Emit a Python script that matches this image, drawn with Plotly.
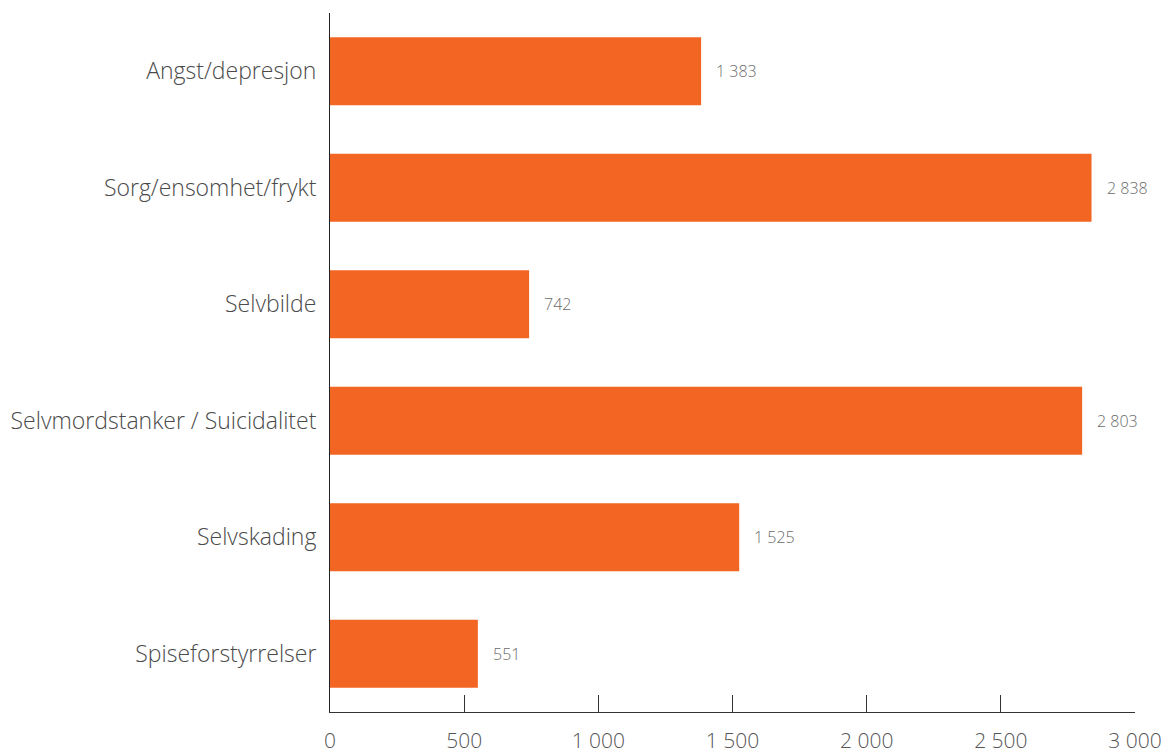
import plotly.graph_objects as go

# Categories listed top to bottom
categories = [
    "Angst/depresjon",
    "Sorg/ensomhet/frykt",
    "Selvbilde",
    "Selvmordstanker / Suicidalitet",
    "Selvskading",
    "Spiseforstyrrelser",
]
values = [1383, 2838, 742, 2803, 1525, 551]
tick_values = [0, 500, 1000, 1500, 2000, 2500, 3000]
tick_labels = ["0", "500", "1 000", "1 500", "2 000", "2 500", "3 000"]


def fmt(v):
    return f"{v:,}".replace(",", " ")


BAR = "#F26522"
FONT = "Open Sans"

fig = go.Figure(
    go.Bar(
        x=values,
        y=categories,
        orientation="h",
        marker=dict(color=BAR, line=dict(width=0)),
        width=0.585,
        hoverinfo="skip",
    )
)

for cat, v in zip(categories, values):
    fig.add_annotation(
        x=v, y=cat, text=fmt(v), showarrow=False,
        xanchor="left", yanchor="middle", xshift=13,
        font=dict(family=FONT, size=16, color="#6b6b6b", weight=300),
    )

fig.update_layout(
    width=1169,
    height=756,
    margin=dict(l=330, r=34, t=13, b=44),
    paper_bgcolor="white",
    plot_bgcolor="white",
    showlegend=False,
    bargap=0.4,
)

fig.update_xaxes(
    range=[0, 3000],
    tickvals=tick_values,
    ticktext=tick_labels,
    ticks="inside",
    ticklen=17,
    tickwidth=1,
    tickcolor="#333333",
    showline=True,
    linecolor="#333333",
    linewidth=1,
    showgrid=False,
    zeroline=False,
    tickfont=dict(family=FONT, size=21, color="#555555", weight=300),
    ticklabelstandoff=10,
    automargin=False,
    fixedrange=True,
)

fig.update_yaxes(
    categoryorder="array",
    categoryarray=categories[::-1],
    range=[-0.5, len(categories) - 0.5],
    showline=True,
    linecolor="#222222",
    linewidth=1,
    ticks="",
    showgrid=False,
    zeroline=False,
    tickfont=dict(family=FONT, size=23, color="#4a4a4a", weight=300),
    ticklabelstandoff=8,
    automargin=False,
    fixedrange=True,
)

fig.write_html("out.html")
